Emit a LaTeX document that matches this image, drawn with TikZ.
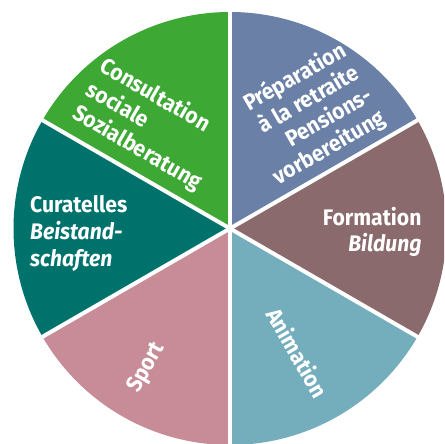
\documentclass[tikz,border=0pt]{standalone}
\usepackage{fontspec}
\setmainfont{Fira Sans}[FakeStretch=0.94]
\definecolor{cGreen}{HTML}{3EA835}
\definecolor{cBlue}{HTML}{6A80A6}
\definecolor{cMauve}{HTML}{8A6A6C}
\definecolor{cLteal}{HTML}{74AEBC}
\definecolor{cPink}{HTML}{C78C98}
\definecolor{cDteal}{HTML}{00726C}
\tikzset{
  lbl/.style={text=white, font=\bfseries\fontsize{22.5}{27}\selectfont, inner sep=0pt},
  lbl26/.style={lbl, font=\bfseries\fontsize{22.5}{26}\selectfont},
  sep/.style={draw=white, line width=4pt},
}
\begin{document}
\begin{tikzpicture}[x=1pt,y=1pt]
\useasboundingbox (0,0) rectangle (444,444);
\clip (0,0) rectangle (444,444);
\fill[white] (0,0) rectangle (444,444);
\coordinate (O) at (230,215.5);
\def\R{216.5}
% wedges
\fill[cBlue]  (O) -- ++(30:\R)  arc[start angle=30,  end angle=90,  radius=\R] -- cycle;
\fill[cGreen] (O) -- ++(90:\R)  arc[start angle=90,  end angle=150, radius=\R] -- cycle;
\fill[cDteal] (O) -- ++(150:\R) arc[start angle=150, end angle=210, radius=\R] -- cycle;
\fill[cPink]  (O) -- ++(210:\R) arc[start angle=210, end angle=270, radius=\R] -- cycle;
\fill[cLteal] (O) -- ++(270:\R) arc[start angle=270, end angle=330, radius=\R] -- cycle;
\fill[cMauve] (O) -- ++(330:\R) arc[start angle=330, end angle=390, radius=\R] -- cycle;
% separators
\foreach \a in {30,90,150,210,270,330} \draw[sep] (O) -- ++(\a:\R+5);
% green (anchor = baseline of last line)
\node[lbl, align=left, rotate=-30, anchor=base west] (green) at (71,326.7)
  {Consultation\\sociale\\Sozialberatung};
% blue
\node[lbl26, align=right, rotate=30, anchor=base east] (blue) at (387,321.5)
  {Préparation\\à la retraite\\Pensions-\\vorbereitung};
% dark teal
\node[lbl, align=left, anchor=base west] (cur) at (30,177.3)
  {Curatelles\\\itshape Beistand-\\\itshape schaften};
% mauve
\node[lbl26, align=right, anchor=base east] (form) at (421.7,192.3)
  {Formation\\\itshape Bildung};
% light teal
\node[lbl, rotate=-60, anchor=base west] (anim) at (265,130) {Animation};
% pink
\node[lbl, rotate=60, anchor=base west] (sport) at (138,50) {Sport};
\end{tikzpicture}
\end{document}
